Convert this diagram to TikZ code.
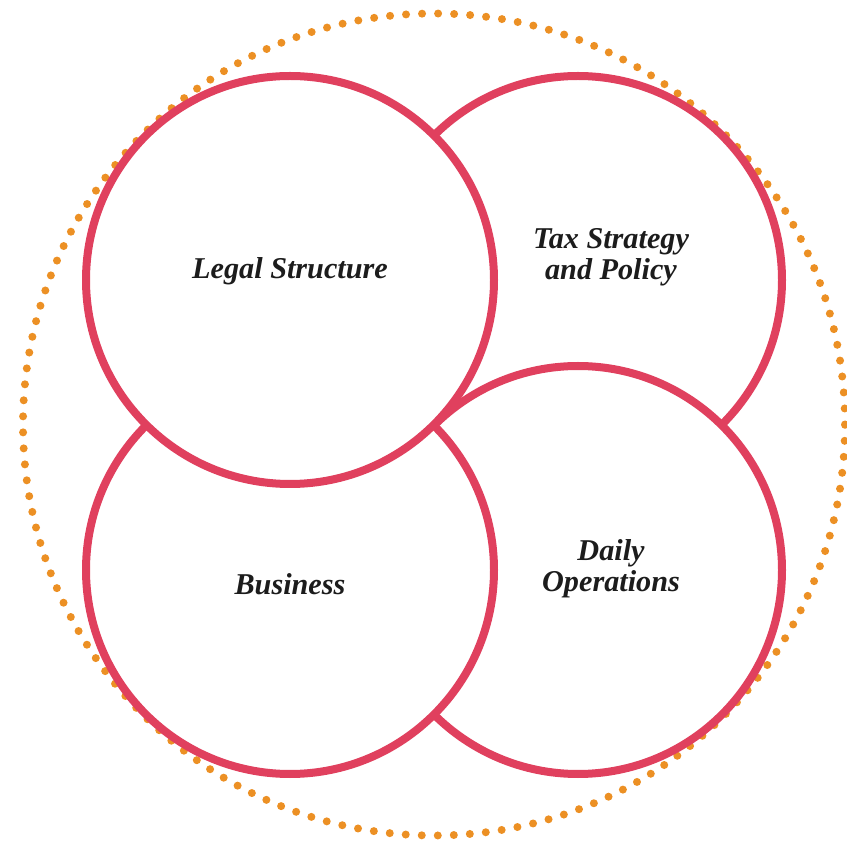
\documentclass[tikz,border=0pt]{standalone}
\usepackage{fontspec}
\setmainfont{Liberation Serif}
\usetikzlibrary{positioning}
\definecolor{VennRed}{HTML}{E0405E}
\definecolor{VennOrange}{HTML}{EC9024}
\definecolor{VennInk}{HTML}{1C1C1C}
\tikzset{
  venncircle/.style={
    circle,
    draw=VennRed,
    fill=white,
    line width=0.16cm,
    minimum size=8.16cm,
    inner sep=0pt
  },
  vennlabel/.style={
    font=\fontsize{17.2}{17.6}\selectfont\bfseries\itshape,
    text=VennInk,
    align=center,
    inner sep=0pt
  },
  dottedring/.style={
    circle,
    draw=VennOrange,
    line width=0.16cm,
    line cap=round,
    dash pattern=on 0pt off 0.3208cm,
    minimum size=16.44cm,
    inner sep=0pt
  }
}

\begin{document}
\begin{tikzpicture}
    \useasboundingbox (0,0) rectangle (16.94,16.88);
    \node[dottedring] (ring) at (8.68,8.39) {};
    % back to front: tax, daily, business, legal
    \node[venncircle] (taxcircle) at (11.56,11.28) {};
    \node[venncircle] (dailycircle) at (11.56,5.48) {};
    \node[venncircle] (businesscircle) at (5.8,5.48) {};
    \node[venncircle] (legalcircle) at (5.8,11.28) {};
    \node[vennlabel] (legal) at (5.8,11.46) {Legal Structure};
    \node[vennlabel] (tax) at (12.22,11.74) {Tax Strategy\\and Policy};
    \node[vennlabel] (business) at (5.8,5.2) {Business};
    \node[vennlabel] (daily) at (12.22,5.5) {Daily\\Operations};
  \end{tikzpicture}
\end{document}
